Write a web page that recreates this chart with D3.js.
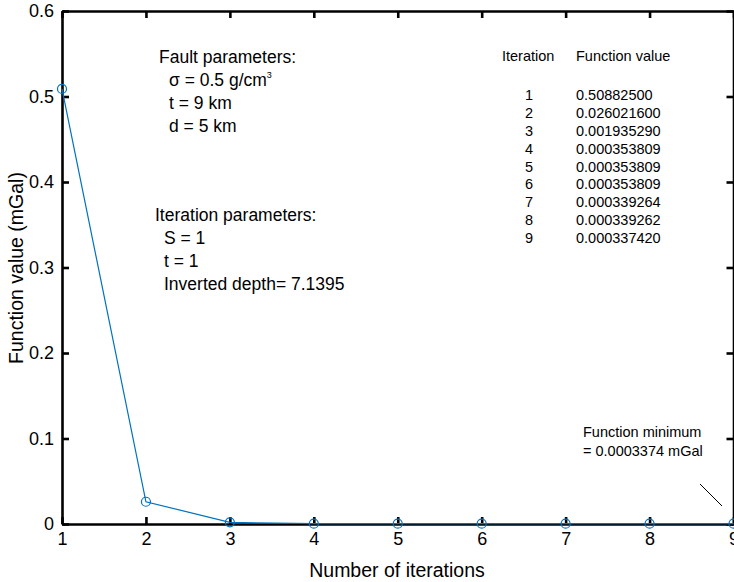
<!DOCTYPE html>
<html>
	<head>
		<title>Function value vs iterations</title>
		<script src="https://d3js.org/d3.v7.min.js"></script>
		<style>
			body { margin: 0; background: #fff; }
			text { font-family: "Liberation Sans", Arial, sans-serif; fill: #000; }
		</style>
	</head>
	<body>
		<svg width="734" height="582"></svg>
		<script type="text/javascript">
			var iterations = [1, 2, 3, 4, 5, 6, 7, 8, 9];
			var values = [0.508825, 0.0260216, 0.00193529, 0.000353809, 0.000353809,
			              0.000353809, 0.000339264, 0.000339262, 0.00033742];
			var valueLabels = ["0.50882500", "0.026021600", "0.001935290", "0.000353809", "0.000353809",
			                   "0.000353809", "0.000339264", "0.000339262", "0.000337420"];
			var xTicks = [1, 2, 3, 4, 5, 6, 7, 8, 9];
			var yTicks = [0, 0.1, 0.2, 0.3, 0.4, 0.5, 0.6];

			var plotLeft = 62, plotRight = 733.5, plotTop = 11, plotBottom = 524;
			var svg = d3.select('svg');

			var x = d3.scaleLinear().domain([1, 9]).range([plotLeft, plotRight]);
			var y = d3.scaleLinear().domain([0, 0.6]).range([plotBottom, plotTop]);

			// axes with inward ticks
			var xAxis = svg.append('g').attr('transform', 'translate(0,' + plotBottom + ')')
			  .call(d3.axisBottom(x).tickValues(xTicks).tickSizeInner(-7).tickSizeOuter(0).tickPadding(8).tickFormat(d3.format('d')));
			var xTop = svg.append('g').attr('transform', 'translate(0,' + plotTop + ')')
			  .call(d3.axisTop(x).tickValues(xTicks).tickSizeInner(-7).tickSizeOuter(0).tickFormat(''));
			var yAxis = svg.append('g').attr('transform', 'translate(' + plotLeft + ',0)')
			  .call(d3.axisLeft(y).tickValues(yTicks).tickSizeInner(-7).tickSizeOuter(0).tickPadding(8)
			    .tickFormat(function(d) { return d === 0 ? '0' : d3.format('.1f')(d); }));
			var yRight = svg.append('g').attr('transform', 'translate(' + plotRight + ',0)')
			  .call(d3.axisRight(y).tickValues(yTicks).tickSizeInner(-7).tickSizeOuter(0).tickFormat(''));

			[xAxis, xTop, yAxis, yRight].forEach(function(g) {
			  g.selectAll('path.domain').attr('stroke', '#000').attr('stroke-width', 2.6);
			  g.selectAll('.tick line').attr('stroke', '#000').attr('stroke-width', 2.6);
			  g.selectAll('.tick text').attr('font-size', '18px')
			    .attr('font-family', '"Liberation Sans", Arial, sans-serif').attr('fill', '#000');
			});

			// data line and circle markers
			var pts = iterations.map(function(d, i) { return [d, values[i]]; });
			svg.append('path')
			  .datum(pts)
			  .attr('fill', 'none')
			  .attr('stroke', '#0072BD')
			  .attr('stroke-width', 1.2)
			  .attr('d', d3.line().x(function(d) { return x(d[0]); }).y(function(d) { return y(d[1]); }));

			svg.selectAll('circle.pt')
			  .data(pts)
			  .enter()
			  .append('circle')
			  .attr('class', 'pt')
			  .attr('cx', function(d) { return x(d[0]); })
			  .attr('cy', function(d) { return y(d[1]); })
			  .attr('r', 4.5)
			  .attr('fill', 'none')
			  .attr('stroke', '#0072BD')
			  .attr('stroke-width', 1.2);

			// axis titles
			svg.append('text')
			  .attr('x', 397).attr('y', 577)
			  .attr('text-anchor', 'middle')
			  .attr('font-size', '19.5px')
			  .text('Number of iterations');
			svg.append('text')
			  .attr('transform', 'translate(23,268) rotate(-90)')
			  .attr('text-anchor', 'middle')
			  .attr('font-size', '19.5px')
			  .text('Function value (mGal)');

			// parameter notes
			var fault = svg.append('text').attr('font-size', '17.5px');
			fault.append('tspan').attr('x', 159).attr('y', 63).text('Fault parameters:');
			var sig = fault.append('tspan').attr('x', 169).attr('y', 86);
			sig.append('tspan').text('\u03c3 = 0.5 g/cm');
			sig.append('tspan').attr('font-size', '9px').attr('dy', -8).text('3');
			fault.append('tspan').attr('x', 169).attr('y', 109).text('t  = 9 km');
			fault.append('tspan').attr('x', 169).attr('y', 132).text('d = 5 km');

			var iter = svg.append('text').attr('font-size', '17.5px');
			iter.append('tspan').attr('x', 155).attr('y', 221).text('Iteration parameters:');
			iter.append('tspan').attr('x', 164).attr('y', 244).text('S = 1');
			iter.append('tspan').attr('x', 164).attr('y', 267).text('t = 1');
			iter.append('tspan').attr('x', 164).attr('y', 290).text('Inverted depth= 7.1395');

			// iteration table
			svg.append('text').attr('x', 502).attr('y', 61).attr('font-size', '14.5px').text('Iteration');
			svg.append('text').attr('x', 576).attr('y', 61).attr('font-size', '14.5px').text('Function value');
			var rowY = d3.scaleLinear().domain([1, 9]).range([100, 243]);
			svg.selectAll('text.it')
			  .data(iterations)
			  .enter()
			  .append('text')
			  .attr('class', 'it')
			  .attr('x', 529).attr('text-anchor', 'middle')
			  .attr('y', function(d) { return rowY(d); })
			  .attr('font-size', '14.5px')
			  .text(function(d) { return d; });
			svg.selectAll('text.fv')
			  .data(valueLabels)
			  .enter()
			  .append('text')
			  .attr('class', 'fv')
			  .attr('x', 576)
			  .attr('y', function(d, i) { return rowY(i + 1); })
			  .attr('font-size', '14.5px')
			  .text(function(d) { return d; });

			// minimum annotation
			var minNote = svg.append('text').attr('font-size', '14.5px');
			minNote.append('tspan').attr('x', 583).attr('y', 437).text('Function minimum');
			minNote.append('tspan').attr('x', 583).attr('y', 456).text('= ' + values[8].toFixed(7) + ' mGal');
			svg.append('line')
			  .attr('x1', 700).attr('y1', 484).attr('x2', 722).attr('y2', 506)
			  .attr('stroke', '#000').attr('stroke-width', 1);
		</script>
	</body>
</html>
